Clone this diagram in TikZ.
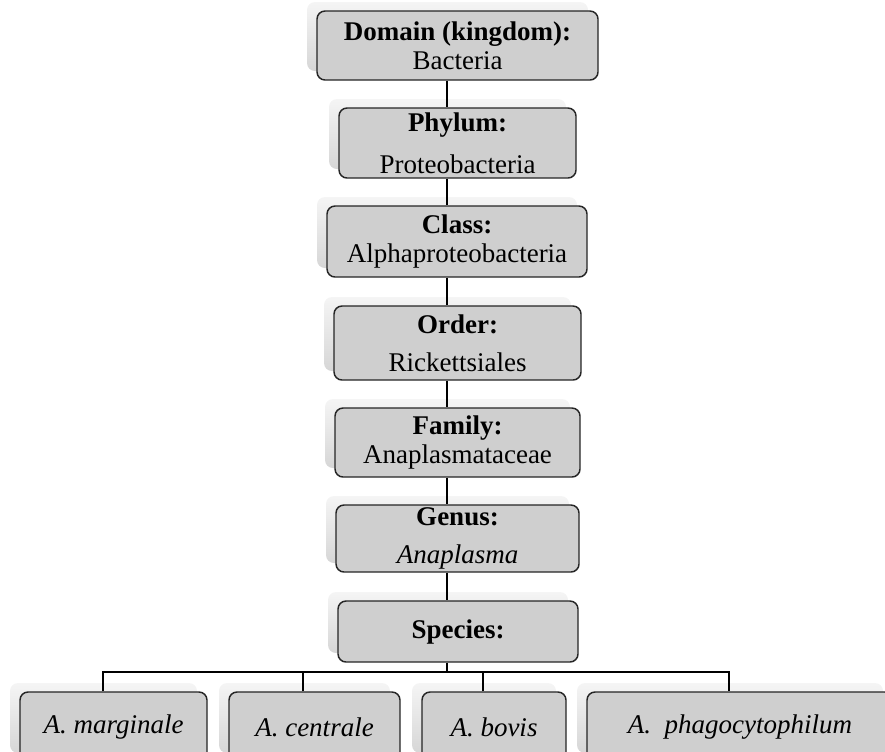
\documentclass[tikz,border=0pt]{standalone}
\usepackage{fontspec}
\setmainfont{Liberation Serif}
\usepackage{xcolor}
\usepackage{tikz}
\usetikzlibrary{shadows}
\definecolor{rankfill}{RGB}{207,207,207}
\definecolor{rankshade}{RGB}{214,214,214}

\begin{document}
\begin{tikzpicture}[x=0.75pt, y=-0.75pt,
        rank/.style={draw=black!85, line width=1.1pt, rounded corners=6pt, fill=rankfill,
            align=center, inner sep=0pt, font=\fontsize{20.25}{21.75}\selectfont,
            general shadow={shadow xshift=-7.5pt, shadow yshift=6.75pt,
                top color=white!96!black, bottom color=rankshade, draw=none}},
        boxsize/.style 2 args={minimum width=#1*0.75pt, minimum height=#2*0.75pt},
        link/.style={line width=1.5pt}]
    \useasboundingbox (0,0) rectangle (885,751);
    \clip (0,0) rectangle (885,751);
    % Ranks
    \node[rank, boxsize={281}{69}] (domain) at (457.5,45.5) {\textbf{Domain (kingdom):}\\Bacteria};
    \node[rank, boxsize={237}{70}] (phylum) at (457.5,143) {\textbf{Phylum:}\\[9.5pt]Proteobacteria};
    \node[rank, boxsize={260}{71}] (class) at (457,241.5) {\textbf{Class:}\\Alphaproteobacteria};
    \node[rank, boxsize={247}{74}] (order) at (457.5,343) {\textbf{Order:}\\[6.5pt]Rickettsiales};
    \node[rank, boxsize={245}{69}] (family) at (457.5,442.5) {\textbf{Family:}\\Anaplasmataceae};
    \node[rank, boxsize={243}{67}] (genus) at (457.5,538.5) {\textbf{Genus:}\\[6.5pt]\textit{Anaplasma}};
    \node[rank, boxsize={240}{61}] (species) at (458,631.5) {\textbf{Species:}};
    % Species level
    \node[rank, boxsize={187}{70}] (marginale) at (113.5,727) {\textit{A. marginale}};
    \node[rank, boxsize={171}{70}] (centrale) at (314.5,727) {\textit{A. centrale}};
    \node[rank, boxsize={144}{70}] (bovis) at (494,727) {\textit{A. bovis}};
    \node[rank, boxsize={306}{70}] (phago) at (740,727) {\textit{A.\ \ phagocytophilum}};

    \coordinate (spine) at (447,0);
    \coordinate (bus) at (0,672);
    \foreach \upper/\lower in {domain/phylum, phylum/class, class/order, order/family, family/genus, genus/species}
        \draw[link] (\upper.south -| spine) -- (\lower.north -| spine);
    \draw[link] (species.south -| spine) -- (bus -| spine);
    \draw[link] ([xshift=-8pt]marginale.north) -- ([xshift=-8pt]marginale.north |- bus)
        -- ([xshift=-8pt]phago.north |- bus) -- ([xshift=-8pt]phago.north);
    \foreach \sp in {centrale, bovis}
        \draw[link] ([xshift=-8.5pt]\sp.north) -- ([xshift=-8.5pt]\sp.north |- bus);
\end{tikzpicture}
\end{document}
